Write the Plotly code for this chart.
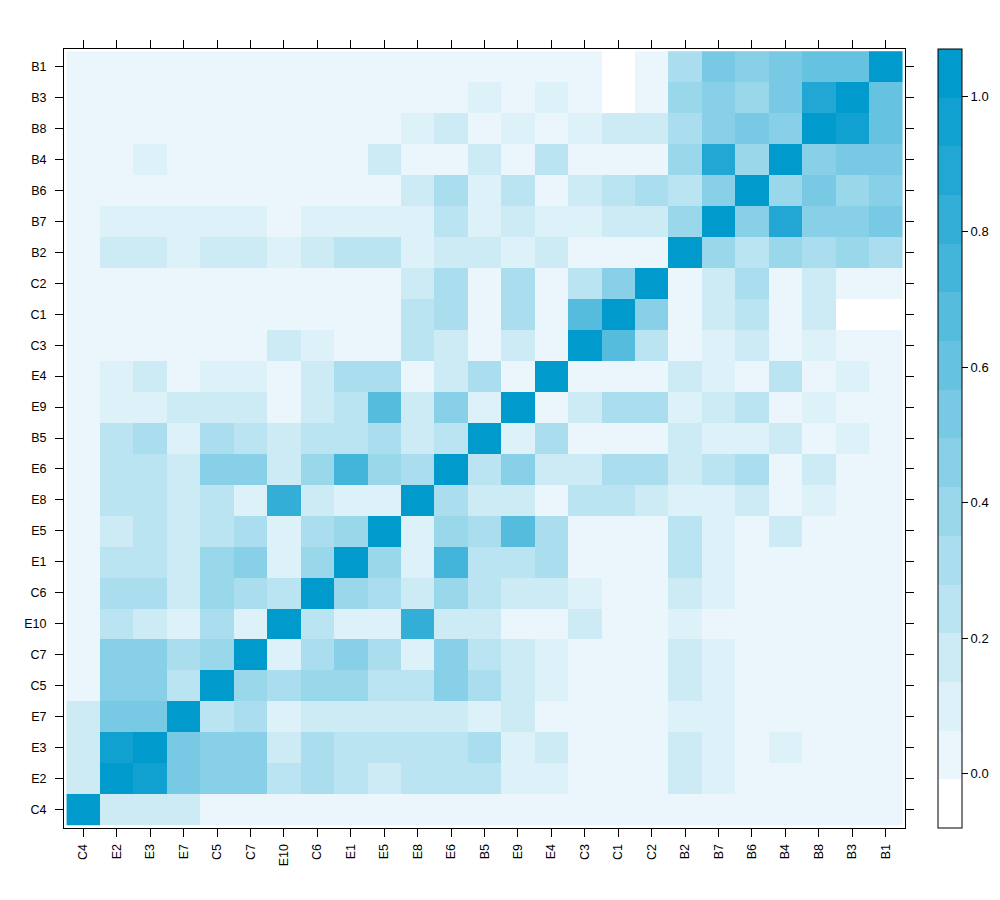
import plotly.graph_objects as go

labels = ["C4", "E2", "E3", "E7", "C5", "C7", "E10", "C6", "E1", "E5", "E8", "E6", "B5",
          "E9", "E4", "C3", "C1", "C2", "B2", "B7", "B6", "B4", "B8", "B3", "B1"]

# one list per row, left to right in the order of labels
row_B1 = [.03, .03, .03, .03, .03, .03, .03, .03, .03, .03, .03, .03, .03, .03, .03, .03, -.04, .03, .32, .53, .46, .53, .60, .60, 1.0]
row_B3 = [.03, .03, .03, .03, .03, .03, .03, .03, .03, .03, .03, .03, .10, .03, .10, .03, -.04, .03, .39, .46, .39, .53, .89, 1.0, .60]
row_B8 = [.03, .03, .03, .03, .03, .03, .03, .03, .03, .03, .10, .17, .03, .10, .03, .10, .17, .17, .32, .46, .53, .46, 1.0, .96, .60]
row_B4 = [.03, .03, .10, .03, .03, .03, .03, .03, .03, .17, .03, .03, .17, .03, .24, .03, .03, .03, .39, .89, .39, 1.0, .46, .53, .53]
row_B6 = [.03, .03, .03, .03, .03, .03, .03, .03, .03, .03, .17, .32, .10, .24, .03, .17, .24, .32, .24, .46, 1.0, .39, .53, .39, .46]
row_B7 = [.03, .10, .10, .10, .10, .10, .03, .10, .10, .10, .10, .24, .10, .17, .10, .10, .17, .17, .39, 1.0, .46, .89, .46, .46, .53]
row_B2 = [.03, .17, .17, .10, .17, .17, .10, .17, .24, .24, .10, .17, .17, .10, .17, .03, .03, .03, 1.0, .39, .24, .39, .32, .39, .32]
row_C2 = [.03, .03, .03, .03, .03, .03, .03, .03, .03, .03, .17, .32, .03, .32, .03, .24, .46, 1.0, .03, .17, .32, .03, .17, .03, .03]
row_C1 = [.03, .03, .03, .03, .03, .03, .03, .03, .03, .03, .24, .32, .03, .32, .03, .68, 1.0, .46, .03, .17, .24, .03, .17, -.04, -.04]
row_C3 = [.03, .03, .03, .03, .03, .03, .17, .10, .03, .03, .24, .17, .03, .17, .03, 1.0, .68, .24, .03, .10, .17, .03, .10, .03, .03]
row_E4 = [.03, .10, .17, .03, .10, .10, .03, .17, .32, .32, .03, .17, .32, .03, 1.0, .03, .03, .03, .17, .10, .03, .24, .03, .10, .03]
row_E9 = [.03, .10, .10, .17, .17, .17, .03, .17, .24, .68, .17, .46, .10, 1.0, .03, .17, .32, .32, .10, .17, .24, .03, .10, .03, .03]
row_B5 = [.03, .24, .32, .10, .32, .24, .17, .24, .24, .32, .17, .24, 1.0, .10, .32, .03, .03, .03, .17, .10, .10, .17, .03, .10, .03]
row_E6 = [.03, .24, .24, .17, .46, .46, .17, .39, .75, .39, .32, 1.0, .24, .46, .17, .17, .32, .32, .17, .24, .32, .03, .17, .03, .03]
row_E8 = [.03, .24, .24, .17, .24, .10, .82, .17, .10, .10, 1.0, .32, .17, .17, .03, .24, .24, .17, .10, .10, .17, .03, .10, .03, .03]
row_E5 = [.03, .17, .24, .17, .24, .32, .10, .32, .39, 1.0, .10, .39, .32, .68, .32, .03, .03, .03, .24, .10, .03, .17, .03, .03, .03]
row_E1 = [.03, .24, .24, .17, .39, .46, .10, .39, 1.0, .39, .10, .75, .24, .24, .32, .03, .03, .03, .24, .10, .03, .03, .03, .03, .03]
row_C6 = [.03, .32, .32, .17, .39, .32, .24, 1.0, .39, .32, .17, .39, .24, .17, .17, .10, .03, .03, .17, .10, .03, .03, .03, .03, .03]
row_E10 = [.03, .24, .17, .10, .32, .10, 1.0, .24, .10, .10, .82, .17, .17, .03, .03, .17, .03, .03, .10, .03, .03, .03, .03, .03, .03]
row_C7 = [.03, .46, .46, .32, .39, 1.0, .10, .32, .46, .32, .10, .46, .24, .17, .10, .03, .03, .03, .17, .10, .03, .03, .03, .03, .03]
row_C5 = [.03, .46, .46, .24, 1.0, .39, .32, .39, .39, .24, .24, .46, .32, .17, .10, .03, .03, .03, .17, .10, .03, .03, .03, .03, .03]
row_E7 = [.17, .53, .53, 1.0, .24, .32, .10, .17, .17, .17, .17, .17, .10, .17, .03, .03, .03, .03, .10, .10, .03, .03, .03, .03, .03]
row_E3 = [.17, .96, 1.0, .53, .46, .46, .17, .32, .24, .24, .24, .24, .32, .10, .17, .03, .03, .03, .17, .10, .03, .10, .03, .03, .03]
row_E2 = [.17, 1.0, .96, .53, .46, .46, .24, .32, .24, .17, .24, .24, .24, .10, .10, .03, .03, .03, .17, .10, .03, .03, .03, .03, .03]
row_C4 = [1.0, .17, .17, .17, .03, .03, .03, .03, .03, .03, .03, .03, .03, .03, .03, .03, .03, .03, .03, .03, .03, .03, .03, .03, .03]

# bottom row first, same order as the axis
rows = [row_C4, row_E2, row_E3, row_E7, row_C5, row_C7, row_E10, row_C6, row_E1, row_E5, row_E8, row_E6, row_B5,
        row_E9, row_E4, row_C3, row_C1, row_C2, row_B2, row_B7, row_B6, row_B4, row_B8, row_B3, row_B1]

# 16 equal bands from white to deepskyblue3
n_bands = 16
colorscale = []
for i in range(n_bands):
    t = i / (n_bands - 1)
    col = f"rgb({round(255 - 255 * t)},{round(255 - 101 * t)},{round(255 - 50 * t)})"
    if i == 1:
        col = "rgb(235,246,252)"  # palest band reads a bit bluer in the reference
    colorscale.append([i / n_bands, col])
    colorscale.append([(i + 1) / n_bands, col])

fig = go.Figure(go.Heatmap(
    x=labels, y=labels, z=rows,
    zmin=-0.08, zmax=1.07,
    colorscale=colorscale,
    hoverongaps=False,
    colorbar=dict(
        x=1.0387, xanchor="left", xref="paper",
        y=0.5, yanchor="middle", len=1, lenmode="fraction",
        thickness=24, thicknessmode="pixels",
        xpad=0, ypad=0,
        outlinecolor="black", outlinewidth=1,
        tick0=0, dtick=0.2, tickformat=".1f",
        ticks="outside", ticklen=6, tickwidth=1, tickcolor="black",
        tickfont=dict(family="Liberation Sans", size=13, color="black"),
    ),
))

axis_style = dict(
    type="category",
    showgrid=False, zeroline=False,
    showline=True, linecolor="black", linewidth=1,
    mirror="ticks",
    ticks="outside", ticklen=8, tickwidth=1, tickcolor="black",
    tickfont=dict(family="Liberation Sans", size=12.5, color="black"),
)

# page body keeps its 8px margin, so sizes are 16px under the 1000x900 window
fig.update_layout(
    width=984, height=884,
    margin=dict(l=56, r=87, t=41, b=64, autoexpand=False),
    paper_bgcolor="white", plot_bgcolor="white",
    xaxis=dict(axis_style, range=[-0.577, 24.577], tickangle=-90, ticklabelstandoff=2),
    yaxis=dict(axis_style, range=[-0.604, 24.572], ticklabelstandoff=6),
)

fig.write_html("out.html")
